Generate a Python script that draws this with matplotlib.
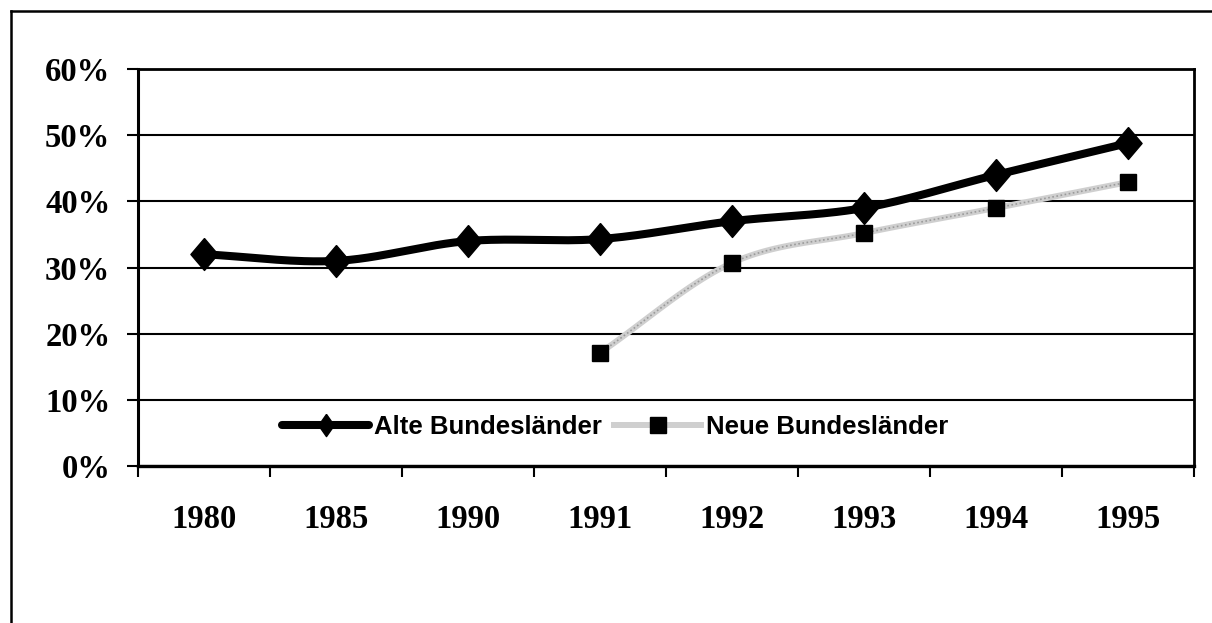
import numpy as np
import matplotlib
matplotlib.use("Agg")
import matplotlib.pyplot as plt
from matplotlib.lines import Line2D
from matplotlib.ticker import FixedLocator, PercentFormatter

years = ["1980", "1985", "1990", "1991", "1992", "1993", "1994", "1995"]
alte = [32.0, 31.0, 34.0, 34.3, 37.0, 39.0, 44.0, 48.8]
neue_years = ["1991", "1992", "1993", "1994", "1995"]
neue = [17.1, 30.7, 35.2, 39.0, 42.9]
y_ticks = [0, 10, 20, 30, 40, 50, 60]

# slightly tall diamond, like the Excel marker
diamond = [(0, 1), (0.85, 0), (0, -1), (-0.85, 0), (0, 1)]
diamond_thin = [(0, 1), (0.7, 0), (0, -1), (-0.7, 0), (0, 1)]


def smooth(x, y, n=30):
    """Catmull-Rom curve through the points, like Excel's smoothed line."""
    x = np.asarray(x, float)
    y = np.asarray(y, float)
    px = np.concatenate([[2 * x[0] - x[1]], x, [2 * x[-1] - x[-2]]])
    py = np.concatenate([[2 * y[0] - y[1]], y, [2 * y[-1] - y[-2]]])
    xs, ys = [], []
    t = np.linspace(0, 1, n)
    for i in range(1, len(px) - 2):
        for p, out in ((px, xs), (py, ys)):
            p0, p1, p2, p3 = p[i - 1], p[i], p[i + 1], p[i + 2]
            out.append(0.5 * (2 * p1 + (-p0 + p2) * t
                              + (2 * p0 - 5 * p1 + 4 * p2 - p3) * t ** 2
                              + (-p0 + 3 * p1 - 3 * p2 + p3) * t ** 3))
    return np.concatenate(xs), np.concatenate(ys)


fig = plt.figure(figsize=(12.12, 6.23), dpi=100)
ax = fig.add_axes([0.1139, 0.252, 0.8712, 0.6372])

xa = np.arange(len(years))
xn = np.array([years.index(y) for y in neue_years])

sx, sy = smooth(xa, alte)
ax.plot(sx, sy, color="black", lw=5.8, solid_capstyle="round", zorder=4)
ax.plot(xa, alte, ls="none", marker=diamond, ms=23, color="black", zorder=5)

# textured grey line: light base with a darker dotted overlay
nx, ny = smooth(xn, neue)
ax.plot(nx, ny, color="#cfcfcf", lw=4.3, zorder=3)
ax.plot(nx, ny, color="#9a9a9a", lw=1.2, ls=(0, (1, 1.5)), zorder=3)
ax.plot(xn, neue, ls="none", marker="s", ms=11.5, color="black", zorder=5)

ax.set_xlim(-0.5, len(years) - 0.5)
ax.set_ylim(0, 60)

ax.yaxis.set_major_locator(FixedLocator(y_ticks))
ax.yaxis.set_major_formatter(PercentFormatter(decimals=0))
ax.grid(axis="y", color="black", lw=1.5)
ax.set_axisbelow(True)

ax.xaxis.set_major_locator(FixedLocator(np.arange(len(years) + 1) - 0.5))
ax.xaxis.set_minor_locator(FixedLocator(xa))
ax.set_xticklabels([], minor=False)
ax.set_xticklabels(years, minor=True)
ax.tick_params(axis="x", which="major", length=8, width=1.5, direction="out")
ax.tick_params(axis="x", which="minor", length=0, pad=27)
ax.tick_params(axis="y", length=8, width=1.5, pad=12)

tick_font = dict(family="Liberation Serif", weight="bold", size=23.5)
for lab in ax.get_yticklabels() + ax.get_xticklabels(minor=True):
    lab.set_fontproperties(tick_font)

for side in ("left", "bottom", "right", "top"):
    ax.spines[side].set_linewidth(2)
ax.spines["left"].set_linewidth(2.2)
ax.spines["bottom"].set_linewidth(2.4)

handles = [
    Line2D([], [], color="black", lw=5.8, marker=diamond_thin, ms=16,
           solid_capstyle="round"),
    Line2D([], [], color="#cfcfcf", lw=4.3, marker="s", ms=11,
           markerfacecolor="black", markeredgecolor="black"),
]
ax.legend(handles, ["Alte Bundesländer", "Neue Bundesländer"], ncol=2,
          loc="center", bbox_to_anchor=(0.452, 0.098), frameon=False,
          prop=dict(family="Liberation Sans", weight="bold", size=18.5),
          handlelength=3.4, handletextpad=0.2, columnspacing=0.45)

# outer chart frame (only left and top edges visible in the crop)
fig.add_artist(Line2D([0.0091, 0.0091], [0, 0.9823], color="black", lw=1.8,
                      transform=fig.transFigure))
fig.add_artist(Line2D([0.0091, 1.0], [0.9823, 0.9823], color="black", lw=1.8,
                      transform=fig.transFigure))

fig.savefig("out.png", dpi=100)
